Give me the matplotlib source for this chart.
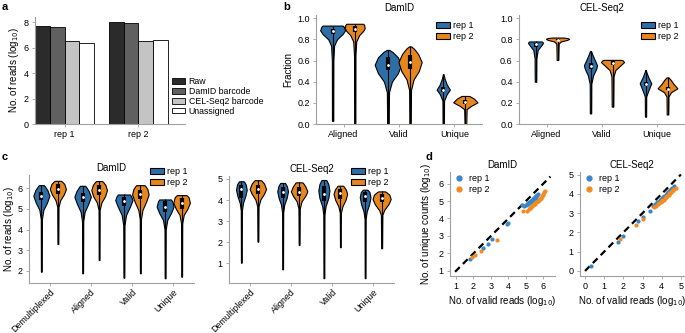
import numpy as np
import matplotlib
matplotlib.use('Agg')
import matplotlib.pyplot as plt
from matplotlib.patches import Patch
from matplotlib.lines import Line2D

plt.rcParams['font.family'] = ['Liberation Sans', 'DejaVu Sans']

W, H = 685, 333
BLUE = '#2c6fa6'
ORANGE = '#e6861c'
DBLUE = '#3a87c8'
DORANGE = '#f58a1f'

# ---- panel a: read counts (log10)
a_groups = ['rep 1', 'rep 2']
a_series = ['Raw', 'DamID barcode', 'CEL-Seq2 barcode', 'Unassigned']
a_colors = ['#2b2b2b', '#606060', '#c4c4c4', 'white']
a_raw = [7.70, 8.00]
a_damid = [7.63, 7.95]
a_celseq = [6.48, 6.53]
a_unassigned = [6.37, 6.56]

# ---- violin outlines: (value, relative half-width)
b_cats = ['Aligned', 'Valid', 'Unique']
c_cats = ['Demultiplexed', 'Aligned', 'Valid', 'Unique']

b_damid_rep1_shape = [
    [(0.03, .05), (0.60, .06), (0.74, .12), (0.80, .35), (0.85, .8), (0.885, 1.0), (0.92, .9), (0.93, .8)],
    [(0.0, .06), (0.30, .08), (0.40, .3), (0.48, .75), (0.56, 1.0), (0.63, .75), (0.68, .35), (0.70, .1)],
    [(0.0, .1), (0.22, .12), (0.28, .5), (0.325, 1.0), (0.37, .55), (0.43, .2), (0.47, .05)],
]
b_damid_rep2_shape = [
    [(0.0, .06), (0.65, .07), (0.78, .15), (0.84, .45), (0.88, .85), (0.905, 1.0), (0.935, .95), (0.947, .85)],
    [(0.0, .06), (0.32, .08), (0.42, .3), (0.50, .75), (0.585, 1.0), (0.66, .7), (0.71, .35), (0.733, .1)],
    [(0.0, .07), (0.14, .1), (0.17, .45), (0.205, 1.0), (0.24, .7), (0.26, .4), (0.265, .3)],
]
b_damid_rep1_halfw = [0.225, 0.24, 0.12]
b_damid_rep2_halfw = [0.18, 0.21, 0.22]
b_damid_rep1_box = [(0.85, 0.88, 0.90), (0.51, 0.56, 0.63), (0.30, 0.325, 0.35)]
b_damid_rep2_box = [(0.87, 0.90, 0.93), (0.52, 0.59, 0.65), (0.19, 0.205, 0.225)]

b_cel_rep1_shape = [
    [(0.40, .1), (0.62, .12), (0.70, .3), (0.74, .75), (0.765, 1.0), (0.775, .95), (0.78, .85)],
    [(0.10, .1), (0.38, .12), (0.46, .4), (0.52, .85), (0.555, 1.0), (0.61, .6), (0.66, .25), (0.69, .08)],
    [(0.07, .1), (0.26, .12), (0.31, .45), (0.385, 1.0), (0.44, .5), (0.49, .15), (0.51, .05)],
]
b_cel_rep2_shape = [
    [(0.605, .07), (0.76, .1), (0.78, .3), (0.795, .85), (0.805, 1.0), (0.812, .85), (0.817, .5)],
    [(0.165, .07), (0.45, .09), (0.51, .25), (0.56, .75), (0.585, 1.0), (0.60, .9), (0.606, .75)],
    [(0.09, .08), (0.26, .1), (0.30, .35), (0.337, 1.0), (0.38, .6), (0.42, .3), (0.44, .1)],
]
b_cel_rep1_halfw = [0.135, 0.12, 0.105]
b_cel_rep2_halfw = [0.21, 0.21, 0.18]
b_cel_rep1_box = [(0.73, 0.754, 0.77), (0.52, 0.548, 0.58), (0.36, 0.38, 0.40)]
b_cel_rep2_box = [(0.79, 0.797, 0.805), (0.56, 0.578, 0.60), (0.32, 0.335, 0.35)]

c_damid_rep1_shape = [
    [(1.97, .05), (4.5, .07), (4.95, .25), (5.3, .7), (5.63, 1.0), (5.9, .75), (6.1, .4), (6.14, .3)],
    [(1.89, .05), (4.4, .07), (4.86, .25), (5.25, .7), (5.58, 1.0), (5.85, .75), (6.07, .4), (6.11, .3)],
    [(1.68, .05), (4.2, .07), (4.7, .25), (5.1, .7), (5.42, 1.0), (5.6, .85), (5.69, .7)],
    [(1.65, .05), (4.0, .07), (4.46, .25), (4.8, .7), (5.1, 1.0), (5.35, .85), (5.45, .7)],
]
c_damid_rep2_shape = [
    [(3.30, .05), (5.1, .08), (5.42, .3), (5.7, .75), (5.95, 1.0), (6.2, .8), (6.32, .5), (6.35, .35)],
    [(2.53, .05), (4.95, .07), (5.31, .3), (5.6, .75), (5.9, 1.0), (6.15, .8), (6.3, .5), (6.34, .35)],
    [(1.89, .05), (4.5, .07), (4.94, .25), (5.35, .7), (5.69, 1.0), (5.95, .85), (6.1, .6), (6.14, .5)],
    [(1.73, .05), (4.3, .07), (4.7, .25), (5.0, .7), (5.29, 1.0), (5.55, .85), (5.64, .65), (5.66, .55)],
]
c_damid_rep1_halfw = [0.195, 0.2, 0.21, 0.205]
c_damid_rep2_halfw = [0.195, 0.19, 0.2, 0.2]
c_damid_rep1_box = [(5.42, 5.63, 5.82), (5.35, 5.58, 5.78), (5.15, 5.37, 5.58), (4.86, 5.10, 5.37)]
c_damid_rep2_box = [(5.70, 5.95, 6.18), (5.65, 5.90, 6.15), (5.45, 5.69, 5.92), (5.00, 5.29, 5.50)]

c_cel_rep1_shape = [
    [(1.03, .07), (3.5, .1), (3.86, .3), (4.2, .75), (4.49, 1.0), (4.75, .8), (4.87, .5), (4.89, .4)],
    [(0.71, .07), (3.4, .1), (3.78, .3), (4.1, .75), (4.41, 1.0), (4.65, .8), (4.79, .5), (4.81, .4)],
    [(0.29, .07), (3.3, .1), (3.7, .3), (4.1, .8), (4.45, 1.0), (4.75, .8), (4.92, .5), (4.95, .4)],
    [(0.29, .07), (3.1, .1), (3.46, .3), (3.8, .75), (4.14, 1.0), (4.38, .8), (4.47, .5), (4.49, .4)],
]
c_cel_rep2_shape = [
    [(2.03, .05), (3.7, .08), (4.02, .3), (4.3, .75), (4.52, 1.0), (4.78, .75), (4.92, .45), (4.94, .35)],
    [(1.87, .05), (3.6, .08), (3.94, .3), (4.2, .75), (4.41, 1.0), (4.65, .75), (4.82, .45), (4.84, .35)],
    [(1.76, .05), (3.4, .08), (3.7, .3), (4.0, .75), (4.29, 1.0), (4.5, .8), (4.66, .45), (4.68, .35)],
    [(1.71, .05), (3.3, .08), (3.54, .3), (3.8, .75), (4.05, 1.0), (4.25, .85), (4.38, .5), (4.41, .35)],
]
c_cel_rep1_halfw = [0.13, 0.13, 0.135, 0.13]
c_cel_rep2_halfw = [0.2, 0.2, 0.165, 0.22]
c_cel_rep1_box = [(4.10, 4.52, 4.73), (4.10, 4.38, 4.60), (3.94, 4.29, 4.65), (3.90, 4.18, 4.40)]
c_cel_rep2_box = [(4.30, 4.50, 4.70), (4.20, 4.40, 4.60), (4.05, 4.33, 4.50), (3.90, 4.10, 4.30)]

# ---- panel d: valid reads vs unique counts (log10)
d_damid_rep1_x = [1.80, 2.56, 2.81, 3.04, 3.90, 3.99, 4.75, 4.90, 4.98, 5.05, 5.10, 5.12, 5.15, 5.20,
                  5.24, 5.25, 5.28, 5.32, 5.35, 5.36, 5.40, 5.44, 5.45, 5.48, 5.52, 5.55, 5.56, 5.60,
                  5.65, 5.70]
d_damid_rep1_y = [1.66, 2.33, 2.56, 2.80, 3.71, 3.77, 4.80, 4.70, 4.76, 4.83, 4.86, 4.82, 4.90, 4.95,
                  4.97, 4.92, 5.02, 5.05, 5.00, 5.08, 5.12, 5.15, 5.08, 5.18, 5.22, 5.15, 5.26, 5.30,
                  5.35, 5.40]
d_damid_rep2_x = [1.90, 2.09, 2.41, 3.33, 4.85, 5.05, 5.15, 5.22, 5.25, 5.30, 5.36, 5.42, 5.48, 5.50,
                  5.54, 5.60, 5.66, 5.70, 5.72, 5.78, 5.84, 5.88, 5.90, 5.95, 6.00, 6.05, 6.08]
d_damid_rep2_y = [1.78, 1.89, 2.12, 2.76, 4.43, 4.45, 4.55, 4.62, 4.58, 4.68, 4.73, 4.80, 4.85, 4.82,
                  4.90, 4.96, 5.02, 5.00, 5.08, 5.14, 5.20, 5.18, 5.28, 5.35, 5.42, 5.50, 5.55]
d_cel_rep1_x = [0.31, 1.70, 1.96, 2.76, 3.00, 3.37, 3.55, 3.65, 3.75, 3.82, 3.85, 3.90, 3.96, 4.00,
                4.02, 4.08, 4.14, 4.15, 4.20, 4.26, 4.32, 4.38, 4.44, 4.50, 4.56, 4.62]
d_cel_rep1_y = [0.26, 1.52, 1.83, 2.57, 2.78, 3.09, 3.35, 3.45, 3.55, 3.60, 3.55, 3.68, 3.74, 3.72,
                3.80, 3.85, 3.90, 3.86, 3.96, 4.02, 4.08, 4.14, 4.20, 4.26, 4.32, 4.38]
d_cel_rep2_x = [1.82, 2.67, 3.02, 3.60, 3.70, 3.80, 3.88, 3.95, 4.00, 4.02, 4.10, 4.17, 4.20, 4.24,
                4.30, 4.36, 4.40, 4.42, 4.48, 4.54, 4.60, 4.66, 4.72]
d_cel_rep2_y = [1.67, 2.40, 2.71, 3.30, 3.38, 3.46, 3.52, 3.58, 3.70, 3.64, 3.70, 3.77, 3.85, 3.84,
                3.90, 3.96, 4.05, 4.02, 4.08, 4.14, 4.20, 4.27, 4.30]
d_damid_diag = [0.95, 6.4]
d_cel_diag = [0.0, 5.0]


def add_ax(fig, l, t, r, b):
    return fig.add_axes([l / W, 1 - b / H, (r - l) / W, (b - t) / H])


def style_ax(ax):
    for s in ['top', 'right']:
        ax.spines[s].set_visible(False)
    for s in ['left', 'bottom']:
        ax.spines[s].set_color('#a0a0a0')
        ax.spines[s].set_linewidth(0.8)
    ax.tick_params(labelsize=6.5, length=2.5, width=0.6, color='#a0a0a0', pad=2)


def fig_legend(ax, handles, labels, x, y, fs=6.5, spacing=0.25):
    ax.legend(handles, labels, loc='upper left', bbox_to_anchor=(x / W, 1 - y / H),
              bbox_transform=ax.figure.transFigure, frameon=False, fontsize=fs,
              handlelength=1.5, handleheight=0.65, handletextpad=0.4,
              labelspacing=spacing, borderpad=0, borderaxespad=0)


def draw_violins(ax, shapes, halfw, boxes, pos, color):
    stats = []
    for prof, bx in zip(shapes, boxes):
        v = np.array(prof)
        stats.append({'coords': v[:, 0], 'vals': v[:, 1], 'mean': bx[1], 'median': bx[1],
                      'min': v[0, 0], 'max': v[-1, 0], 'quantiles': []})
    parts = ax.violin(stats, positions=pos, widths=[2 * h for h in halfw],
                      showmeans=False, showextrema=False, showmedians=False)
    for body in parts['bodies']:
        body.set_facecolor(color)
        body.set_edgecolor('black')
        body.set_linewidth(0.8)
        body.set_alpha(1)
        body.set_zorder(2)
    lo = [s['min'] for s in stats]
    hi = [s['max'] for s in stats]
    ax.vlines(pos, lo, hi, color='black', lw=0.8, zorder=3)
    ax.vlines(pos, [b[0] for b in boxes], [b[2] for b in boxes], color='black', lw=3, zorder=3)
    ax.scatter(pos, [b[1] for b in boxes], s=4, color='white', zorder=4, linewidths=0)


def violin_panel(ax, cats, r1, r2, title, ylim):
    x = np.arange(len(cats))
    draw_violins(ax, r1[0], r1[1], r1[2], x - 0.2, BLUE)
    draw_violins(ax, r2[0], r2[1], r2[2], x + 0.2, ORANGE)
    ax.set_xlim(-0.5, len(cats) - 0.5)
    ax.set_ylim(*ylim)
    ax.set_xticks(x)
    style_ax(ax)
    ax.set_title(title, fontsize=7, pad=3)


fig = plt.figure(figsize=(W / 100, H / 100), dpi=100)

# ---- a
ax = add_ax(fig, 35, 17, 185, 124)
xa = np.arange(len(a_groups))
for i, (vals, col) in enumerate(zip([a_raw, a_damid, a_celseq, a_unassigned], a_colors)):
    ax.bar(xa - 0.3 + 0.2 * i, vals, width=0.2, color=col, edgecolor='black', linewidth=0.6,
           label=a_series[i])
ax.set_xlim(-0.4, 1.63)
ax.set_ylim(0, 8.4)
ax.set_xticks(xa)
ax.set_xticklabels(a_groups)
ax.set_yticks([0, 2, 4, 6, 8])
style_ax(ax)
ax.set_ylabel('No. of reads (log$_{10}$)', fontsize=7, labelpad=2)
hs = [Patch(facecolor=c, edgecolor='black', linewidth=0.6) for c in a_colors]
fig_legend(ax, hs, a_series, 172, 77, fs=6.3, spacing=0.1)

rep_handles = [Patch(facecolor=BLUE, edgecolor='black', linewidth=0.8),
               Patch(facecolor=ORANGE, edgecolor='black', linewidth=0.8)]
reps = ['rep 1', 'rep 2']

# ---- b
ax = add_ax(fig, 316, 15, 482, 124)
violin_panel(ax, b_cats, (b_damid_rep1_shape, b_damid_rep1_halfw, b_damid_rep1_box),
             (b_damid_rep2_shape, b_damid_rep2_halfw, b_damid_rep2_box), 'DamID', (0, 1.03))
ax.set_xticklabels(b_cats)
ax.set_yticks(np.arange(0, 1.01, 0.2))
ax.set_yticklabels(['0.0', '0.2', '0.4', '0.6', '0.8', '1.0'])
ax.set_ylabel('Fraction', fontsize=7, labelpad=3)
fig_legend(ax, rep_handles, reps, 436, 21)

ax = add_ax(fig, 519, 15, 684, 124)
violin_panel(ax, b_cats, (b_cel_rep1_shape, b_cel_rep1_halfw, b_cel_rep1_box),
             (b_cel_rep2_shape, b_cel_rep2_halfw, b_cel_rep2_box), 'CEL-Seq2', (0, 1.03))
ax.set_xticklabels(b_cats)
ax.set_yticks(np.arange(0, 1.01, 0.2))
ax.set_yticklabels(['0.0', '0.2', '0.4', '0.6', '0.8', '1.0'])
fig_legend(ax, rep_handles, reps, 641, 21)

# ---- c
ax = add_ax(fig, 29, 175, 194, 283)
violin_panel(ax, c_cats, (c_damid_rep1_shape, c_damid_rep1_halfw, c_damid_rep1_box),
             (c_damid_rep2_shape, c_damid_rep2_halfw, c_damid_rep2_box), 'DamID', (1.42, 6.63))
ax.set_xticklabels(c_cats, rotation=45, ha='right', rotation_mode='anchor', fontsize=6.4)
ax.tick_params(axis='x', pad=1)
ax.set_yticks([2, 3, 4, 5, 6])
ax.set_ylabel('No. of reads (log$_{10}$)', fontsize=7, labelpad=1)
fig_legend(ax, rep_handles, reps, 150, 167)

ax = add_ax(fig, 229, 176, 394, 283)
violin_panel(ax, c_cats, (c_cel_rep1_shape, c_cel_rep1_halfw, c_cel_rep1_box),
             (c_cel_rep2_shape, c_cel_rep2_halfw, c_cel_rep2_box), 'CEL-Seq2', (0.06, 5.14))
ax.set_xticklabels(c_cats, rotation=45, ha='right', rotation_mode='anchor', fontsize=6.4)
ax.tick_params(axis='x', pad=1)
ax.set_yticks([1, 2, 3, 4, 5])
fig_legend(ax, rep_handles, reps, 351, 167)

# ---- d
dot_handles = [Line2D([], [], ls='none', marker='o', ms=3.5, color=DBLUE),
               Line2D([], [], ls='none', marker='o', ms=3.5, color=DORANGE)]

ax = add_ax(fig, 450, 172, 555, 276)
ax.plot(d_damid_diag, d_damid_diag, color='black', lw=1.6, ls=(0, (3, 2)), zorder=1)
ax.scatter(d_damid_rep1_x, d_damid_rep1_y, s=9, color=DBLUE, linewidths=0, zorder=2)
ax.scatter(d_damid_rep2_x, d_damid_rep2_y, s=9, color=DORANGE, linewidths=0, zorder=2)
ax.set_xlim(0.66, 6.66)
ax.set_ylim(0.71, 6.66)
ax.set_xticks([1, 2, 3, 4, 5, 6])
ax.set_yticks([1, 2, 3, 4, 5, 6])
style_ax(ax)
ax.set_title('DamID', fontsize=7, pad=3)
ax.set_xlabel('No. of valid reads (log$_{10}$)', fontsize=7, labelpad=2)
ax.set_ylabel('No. of unique counts (log$_{10}$)', fontsize=7, labelpad=4)
fig_legend(ax, dot_handles, reps, 452, 174)

ax = add_ax(fig, 580, 172, 684, 276)
ax.plot(d_cel_diag, d_cel_diag, color='black', lw=1.6, ls=(0, (3, 2)), zorder=1)
ax.scatter(d_cel_rep1_x, d_cel_rep1_y, s=9, color=DBLUE, linewidths=0, zorder=2)
ax.scatter(d_cel_rep2_x, d_cel_rep2_y, s=9, color=DORANGE, linewidths=0, zorder=2)
ax.set_xlim(-0.26, 5.16)
ax.set_ylim(-0.26, 5.13)
ax.set_xticks([0, 1, 2, 3, 4, 5])
ax.set_yticks([0, 1, 2, 3, 4, 5])
style_ax(ax)
ax.set_title('CEL-Seq2', fontsize=7, pad=3)
ax.set_xlabel('No. of valid reads (log$_{10}$)', fontsize=7, labelpad=2)
fig_legend(ax, dot_handles, reps, 582, 174)

# panel letters
for lab, x, y in [('a', 2, 2), ('b', 283, 2), ('c', 2, 152), ('d', 425, 152)]:
    fig.text(x / W, 1 - y / H, lab, fontsize=8, fontweight='bold', va='top', ha='left')

fig.savefig('out.png', dpi=100)
